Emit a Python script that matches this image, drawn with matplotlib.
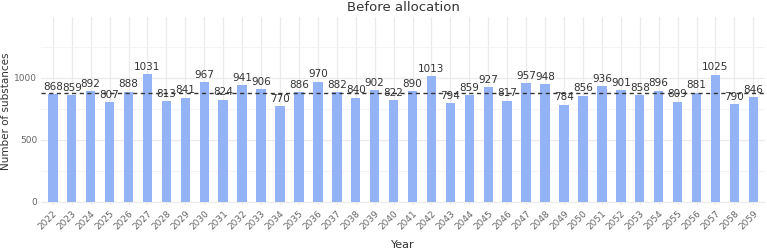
import matplotlib
matplotlib.use("Agg")
import matplotlib.pyplot as plt
import numpy as np

# data
years = list(range(2022, 2060))
counts = [868, 859, 892, 807, 888, 1031, 813, 841, 967, 824,
          941, 906, 770, 886, 970, 882, 840, 902, 822, 890,
          1013, 794, 859, 927, 817, 957, 948, 784, 856, 936,
          901, 858, 896, 809, 881, 1025, 790, 846]

x = np.arange(len(years))
mean_val = np.mean(counts)

fig = plt.figure(figsize=(7.67, 2.5), dpi=100)
ax = fig.add_axes([0.054, 0.18, 0.943, 0.752])

ax.bar(x, counts, width=0.5, color="#94b3f7", zorder=2)
ax.axhline(mean_val, color="#333333", linestyle=(0, (3, 2.5)), linewidth=1.0, zorder=3)

for xi, c in zip(x, counts):
    ax.text(xi, c + 18, str(c), ha="center", va="bottom", fontsize=7.5,
            color="#333333", zorder=4)

ax.set_xlim(-0.6, len(years) - 0.4)
ax.set_ylim(-25, 1490)
ax.set_xticks(x)
ax.set_xticklabels([str(y) for y in years], rotation=45, ha="right",
                   rotation_mode="anchor", fontsize=6.5, color="#666666")
ax.set_yticks([0, 500, 1000])
ax.set_yticks([250, 750, 1250], minor=True)
ax.tick_params(axis="y", labelsize=6.5, colors="#666666", length=0, pad=3)
ax.tick_params(axis="y", which="minor", length=0)
ax.tick_params(axis="x", length=0, pad=3)

ax.grid(True, which="major", color="#ebebeb", linewidth=0.9, zorder=0)
ax.grid(True, which="minor", axis="y", color="#f3f3f3", linewidth=0.6, zorder=0)
ax.set_axisbelow(True)
for s in ax.spines.values():
    s.set_visible(False)

ax.set_title("Before allocation", fontsize=9.5, color="#333333", pad=4)
ax.set_xlabel("Year", fontsize=8, color="#333333", labelpad=6)
ax.set_ylabel("Number of substances", fontsize=7.5, color="#333333", labelpad=2)

fig.savefig("out.png", dpi=100)
